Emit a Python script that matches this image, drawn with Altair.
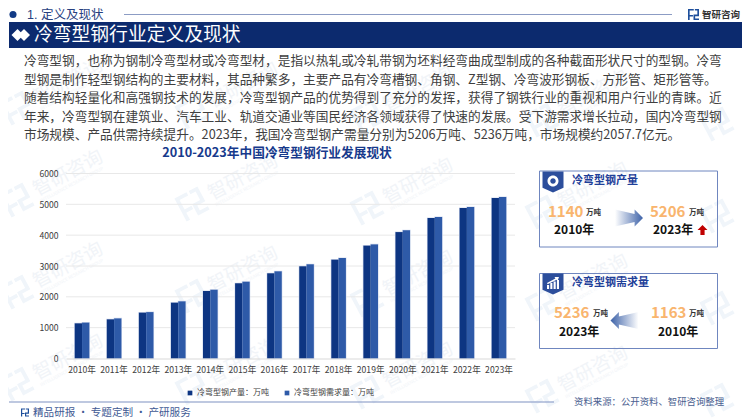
import altair as alt
import pandas as pd

FONT = "Noto Sans CJK SC"
TIGHT = "Liberation Sans, Noto Sans CJK SC"
NAVY = "#0c2a6e"
BLUE = "#2e5aa8"

years = ["2010年", "2011年", "2012年", "2013年", "2014年", "2015年", "2016年",
         "2017年", "2018年", "2019年", "2020年", "2021年", "2022年", "2023年"]
output_vals = [1140, 1270, 1487, 1810, 2190, 2440, 2763, 2990, 3205, 3660, 4100, 4556, 4880, 5206]
demand_vals = [1163, 1300, 1505, 1853, 2230, 2490, 2827, 3055, 3260, 3700, 4157, 4590, 4913, 5236]
series_names = ["冷弯型钢产量：万吨", "冷弯型钢需求量：万吨"]
y_ticks = [0, 1000, 2000, 3000, 4000, 5000, 6000]
body_lines = [
    "冷弯型钢，也称为钢制冷弯型材或冷弯型材，是指以热轧或冷轧带钢为坯料经弯曲成型制成的各种截面形状尺寸的型钢。冷弯",
    "型钢是制作轻型钢结构的主要材料，其品种繁多，主要产品有冷弯槽钢、角钢、Z型钢、冷弯波形钢板、方形管、矩形管等。",
    "随着结构轻量化和高强钢技术的发展，冷弯型钢产品的优势得到了充分的发挥，获得了钢铁行业的重视和用户行业的青睐。近",
    "年来，冷弯型钢在建筑业、汽车工业、轨道交通业等国民经济各领域获得了快速的发展。受下游需求增长拉动，国内冷弯型钢",
    "市场规模、产品供需持续提升。2023年，我国冷弯型钢产需量分别为5206万吨、5236万吨，市场规模约2057.7亿元。",
]

# plot-area origin on the page
OX, OY = 66, 173.5
one = alt.Data(values=[{"a": 1}])


def px(x):
    return x - OX


def py(y):
    return y - OY


def text(s, x, y, size, color="#333333", weight="normal", align="left", angle=0, font=FONT):
    return alt.Chart(one).mark_text(
        text=s, font=font, fontSize=size, color=color, fontWeight=weight,
        align=align, baseline="middle", angle=angle,
    ).encode(x=alt.value(px(x)), y=alt.value(py(y)))


def box(x1, x2, y1, y2, **kw):
    return alt.Chart(one).mark_rect(**kw).encode(
        x=alt.value(px(x1)), x2=alt.value(px(x2)),
        y=alt.value(py(y1)), y2=alt.value(py(y2)),
    )


def glyph(path, x, y, span, fill, angle=0):
    return alt.Chart(one).mark_point(
        shape=path, filled=True, fill=fill, opacity=1, strokeWidth=0,
        size=span * span, angle=angle,
    ).encode(x=alt.value(px(x)), y=alt.value(py(y)))


LOGO = ("M-1,-1 H0.05 V-0.72 H-0.7 V0.1 H-0.1 V0.38 H-0.7 V1 H-1 Z "
        "M0.25,-1 H1 V0.3 H0.3 V0.72 H1 V1 H0 V0.02 H0.7 V-0.72 H0.25 Z")
PENNANT = "M-1,-1 H1 V0.55 L0,1 L-1,0.55 Z"
ARROW_R = "M-1,-0.6 L0.4,-0.28 V-0.6 L1,0 L0.4,0.6 V0.28 L-1,0.6 Z"
ARROW_L = "M1,-0.6 L-0.4,-0.28 V-0.6 L-1,0 L-0.4,0.6 V0.28 L1,0.6 Z"
UP = "M0,-1 L1,0 H0.42 V1 H-0.42 V0 H-1 Z"
RING = "M-1,0 A1,1 0 1,0 1,0 A1,1 0 1,0 -1,0 Z M-0.5,0 A0.5,0.5 0 1,1 0.5,0 A0.5,0.5 0 1,1 -0.5,0 Z"
TREND = ("M-1,1 V0.35 H-0.65 V1 Z M-0.45,1 V0 H-0.1 V1 Z M0.1,1 V-0.25 H0.45 V1 Z M0.65,1 V-0.5 H1 V1 Z "
         "M-1,0 L0.4,-0.75 L0.25,-1 L1,-1 L0.75,-0.35 L0.6,-0.55 L-0.9,0.2 Z")

layers = []

# watermark
WM = "#f1f4f8"
for j in range(-1, 3):
    for i in range(5):
        cx = 68 + 175 * i
        cy = 173 + 92 * j + 4 * i
        if i < 4:
            layers.append(text("智研咨询", cx, cy, 19, WM, align="center", angle=332))
            layers.append(text("INTELLIGENCE RESEARCH GROUP", cx + 4, cy + 12, 4.5, WM, align="center", angle=332))
        layers.append(glyph(LOGO, cx - 51, cy + 27, 26, "#f0f5fa", angle=332))

# section header (the page margin hides anything above y=8)
layers.append(alt.Chart(one).mark_point(shape="circle", filled=True, fill="#123a86", opacity=1, size=50, strokeWidth=0)
              .encode(x=alt.value(px(13)), y=alt.value(py(14.5))))
layers.append(text("1. 定义及现状", 27, 14.5, 12.5, "#27407f", font=TIGHT))
layers.append(box(124, 672, 14, 15, fill="#8c9cc4"))
layers.append(glyph(LOGO, 693.5, 14.5, 11, "#1e4f9c"))
layers.append(text("智研咨询", 702, 14.5, 9.5, "#333333", "bold"))

# banner
layers.append(box(9, 742, 22, 48, fill=NAVY))
layers.append(glyph("diamond", 17.5, 35, 12, "#ffffff"))
layers.append(glyph("diamond", 24, 35, 12, "#ffffff"))
layers.append(text("冷弯型钢行业定义及现状", 34, 34.5, 18.8, "#ffffff", font=TIGHT))

# body
for k, line in enumerate(body_lines):
    layers.append(text(line, 24, 61 + 18.6 * k, 12.7, "#404040"))

# chart title
layers.append(text("2010-2023年中国冷弯型钢行业发展现状", 277, 153, 12.7, "#173a8c", "bold", "center"))

# grid and bars
y_scale = alt.Scale(domain=[0, 6000], nice=False)
y_axis = alt.Axis(values=y_ticks, format="d", labelFont=FONT, grid=False, labelFontSize=8.6,
                  labelColor="#404040", labelPadding=8, tickSize=0, domain=False, zindex=1)
grid = alt.Chart(pd.DataFrame({"tick": y_ticks[1:]})).mark_rule(color="#e8e8e8", strokeWidth=1).encode(
    y=alt.Y("tick:Q", title=None, scale=y_scale, axis=y_axis)
)
layers.append(grid)

df = pd.DataFrame({
    "year": years * 2,
    "value": output_vals + demand_vals,
    "series": [series_names[0]] * len(years) + [series_names[1]] * len(years),
})
x_enc = alt.X("year:N", sort=years, title=None,
              scale=alt.Scale(paddingInner=0.545, paddingOuter=0.2725),
              axis=alt.Axis(labelAngle=0, labelFont=FONT, labelFontSize=8.6, labelColor="#404040",
                            labelPadding=7, tickSize=0, domainColor="#d9d9d9", grid=False, zindex=1))
xo_enc = alt.XOffset("series:N", sort=series_names, scale=alt.Scale(paddingInner=0))
y_enc = alt.Y("value:Q", title=None, scale=y_scale, axis=y_axis)
halo = alt.Chart(df).mark_bar(color="#d3dbee", stroke="#d3dbee", strokeWidth=1.2).encode(x=x_enc, xOffset=xo_enc, y=y_enc)
bars = alt.Chart(df).mark_bar().encode(
    x=x_enc, xOffset=xo_enc, y=y_enc,
    color=alt.Color("series:N", sort=series_names, title=None,
                    scale=alt.Scale(domain=series_names, range=["#0d3582", BLUE]),
                    legend=alt.Legend(orient="none", legendX=px(186), legendY=py(389), direction="horizontal",
                                      symbolType="square", symbolSize=22, labelFont=FONT, labelFontSize=8,
                                      labelColor="#404040", columnPadding=14, labelOffset=3,
                                      labelLimit=120, padding=0)),
)
layers.append(halo)
layers.append(bars)

# card 1
CARD = "#6f86bf"
ORANGE = "#f9b56e"
layers.append(box(539.5, 717.5, 171, 247, fillOpacity=0, stroke=CARD, strokeWidth=1))
layers.append(glyph(PENNANT, 553, 182, 21, "#2c4e9c"))
layers.append(glyph(RING, 553, 181, 11, "#ffffff"))
layers.append(text("冷弯型钢产量", 572, 181, 11, "#1f4099", "bold"))
layers.append(text("1140", 548, 211.5, 15, ORANGE, "bold"))
layers.append(text("万吨", 586, 212.5, 7.5, "#333333", "bold"))
layers.append(text("2010年", 554, 229.5, 12, "#111111", "bold"))
grad_r = alt.Gradient(gradient="linear", x1=0, x2=1, y1=0, y2=0,
                      stops=[alt.GradientStop(color="#ffffff", offset=0), alt.GradientStop(color="#3d62a8", offset=1)])
layers.append(glyph(ARROW_R, 629, 218, 28, grad_r))
layers.append(text("5206", 650, 211.5, 15, ORANGE, "bold"))
layers.append(text("万吨", 689, 212.5, 7.5, "#333333", "bold"))
layers.append(text("2023年", 653, 229.5, 12, "#111111", "bold"))
layers.append(glyph(UP, 702.5, 230, 10, "#c00000"))

# card 2
layers.append(box(539.5, 717.5, 273.5, 348.5, fillOpacity=0, stroke=CARD, strokeWidth=1))
layers.append(glyph(PENNANT, 553, 284, 21, "#2c4e9c"))
layers.append(glyph(TREND, 553, 283, 12, "#ffffff"))
layers.append(text("冷弯型钢需求量", 572, 283, 11, "#1f4099", "bold"))
layers.append(text("5236", 554, 313, 15, ORANGE, "bold"))
layers.append(text("万吨", 593, 314, 7.5, "#333333", "bold"))
layers.append(text("2023年", 559, 331.5, 12, "#111111", "bold"))
grad_l = alt.Gradient(gradient="linear", x1=0, x2=1, y1=0, y2=0,
                      stops=[alt.GradientStop(color="#3d62a8", offset=0), alt.GradientStop(color="#ffffff", offset=1)])
layers.append(glyph(ARROW_L, 624.5, 320.5, 28, grad_l))
layers.append(text("1163", 651, 313, 15, ORANGE, "bold"))
layers.append(text("万吨", 689, 314, 7.5, "#333333", "bold"))
layers.append(text("2010年", 658, 331.5, 12, "#111111", "bold"))

# footer
layers.append(box(9, 554, 401.5, 402.5, fill="#7f92c2"))
layers.append(glyph(LOGO, 25, 412.5, 8, "#1e4f9c"))
layers.append(text("精品研报 · 专题定制 · 产研服务", 33, 412.5, 10.6, "#3f5a94"))
layers.append(text("资料来源：公开资料、智研咨询整理", 574, 401.5, 9.4, "#4a6090"))

chart = alt.layer(*layers).properties(
    width=449, height=185,
    padding={"left": 58, "top": 165.5, "right": 227, "bottom": 61},
    autosize=alt.AutoSizeParams(type="none"),
    background="white",
).configure_view(stroke=None)

chart.save("out.html", embed_options={"renderer": "svg", "actions": False})
